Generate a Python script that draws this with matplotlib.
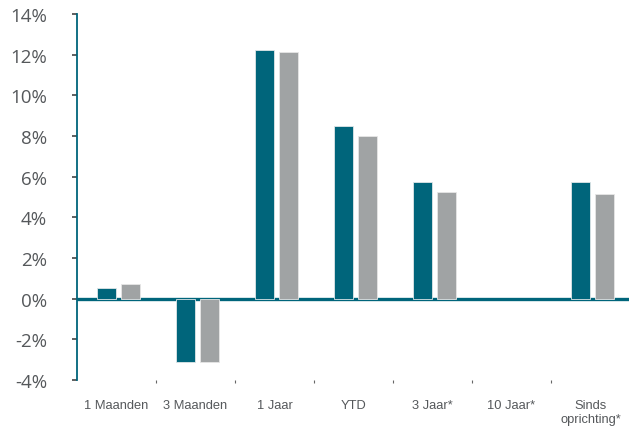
import matplotlib
matplotlib.use("Agg")
import matplotlib.pyplot as plt
import numpy as np
from matplotlib.ticker import FixedLocator, PercentFormatter

plt.rcParams["axes.unicode_minus"] = False

categories = ["1 Maanden", "3 Maanden", "1 Jaar", "YTD", "3 Jaar*", "10 Jaar*", "Sinds\noprichting*"]
fund = [0.52, -3.12, 12.25, 8.5, 5.75, 0.0, 5.75]
benchmark = [0.72, -3.12, 12.15, 8.0, 5.25, 0.0, 5.15]
yticks = [-4, -2, 0, 2, 4, 6, 8, 10, 12, 14]

TEAL = "#00657B"
GREY = "#A0A3A4"
TEXT = "#55585B"

fig = plt.figure(figsize=(6.29, 4.27), dpi=100)
ax = fig.add_axes([77 / 629, 1 - 381 / 427, 553 / 629, 366 / 427])

x = np.arange(len(categories))
w = 0.25
# thin light outline only on non-empty bars
ax.bar(x - 0.128, fund, w, color=TEAL, lw=0.6, zorder=3,
       edgecolor=["#dfe6e8" if v else "none" for v in fund])
ax.bar(x + 0.177, benchmark, w, color=GREY, lw=0.6, zorder=3,
       edgecolor=["#e6e6e6" if v else "none" for v in benchmark])
ax.axhline(0, color=TEAL, lw=2.4, zorder=2)

ax.set_xlim(-0.5, len(categories) - 0.5)
ax.set_ylim(-4, 14)
ax.set_yticks(yticks)
ax.yaxis.set_major_formatter(PercentFormatter(decimals=0))
ax.tick_params(axis="y", length=3.6, width=1.2, color="#444444", pad=18,
               labelsize=13.5, labelcolor=TEXT)
for lab in ax.get_yticklabels():
    lab.set_family("Open Sans")

ax.set_xticks(x)
ax.set_xticklabels(categories, family="Liberation Sans", fontsize=9.3, color=TEXT, linespacing=1.3)
ax.tick_params(axis="x", which="major", length=0, pad=13.5)
ax.xaxis.set_minor_locator(FixedLocator(x[:-1] + 0.5))
ax.tick_params(axis="x", which="minor", length=2, width=0.8, color="#666666")

for s in ("top", "right", "bottom"):
    ax.spines[s].set_visible(False)
ax.spines["left"].set_color(TEAL)
ax.spines["left"].set_linewidth(1.3)

fig.savefig("out.png", dpi=100)
